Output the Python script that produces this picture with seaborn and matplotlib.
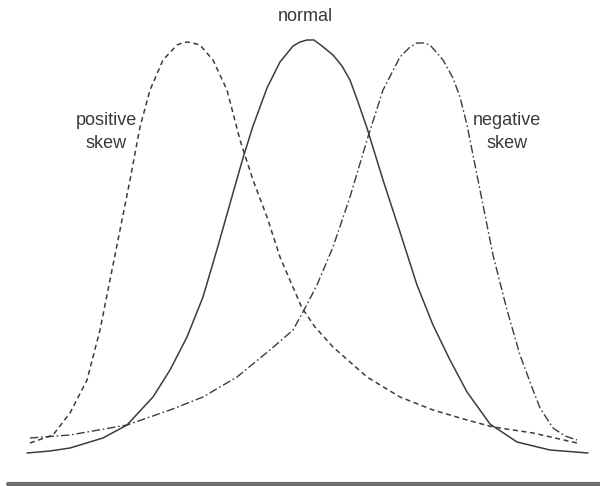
import pandas as pd
import numpy as np
import seaborn as sns
import matplotlib.pyplot as plt

# Werte (x-Position, Hoehe ueber der Grundlinie)
normal_x = [27, 50, 70, 103, 127, 153, 170, 187, 203, 218, 231, 243, 253, 267, 280, 293, 300, 307,
            314, 322, 333, 342, 350, 358, 367, 383, 400, 417, 433, 450, 467, 490, 517, 550, 588]
normal_h = [31, 33, 36, 46, 59, 87, 114, 147, 187, 238, 284, 326, 358, 396, 422, 438, 442, 444,
            444, 438, 429, 418, 404, 382, 356, 304, 252, 199, 159, 124, 92, 60, 42, 34, 31]

pos_x = [30, 53, 70, 87, 100, 110, 120, 130, 140, 150, 163, 177, 182, 187, 193, 200, 213,
         227, 240, 253, 267, 280, 292, 302, 315, 333, 367, 400, 433, 467, 493, 533, 577]
pos_h = [41, 49, 71, 104, 154, 204, 254, 304, 357, 394, 424, 439, 441, 442, 441, 439, 424,
         394, 344, 304, 267, 227, 199, 176, 157, 137, 107, 87, 74, 64, 57, 51, 41]

neg_x = [30, 70, 127, 170, 203, 237, 270, 293, 303, 317, 333, 350, 367, 383, 400, 410, 417,
         424, 430, 443, 453, 460, 467, 473, 483, 493, 507, 520, 533, 540, 553, 565, 577]
neg_h = [46, 49, 59, 74, 87, 107, 134, 154, 172, 199, 237, 287, 344, 394, 427, 437, 441,
         441, 439, 424, 406, 387, 359, 329, 279, 229, 174, 129, 94, 76, 56, 48, 44]

sns.set_style("white")
plt.rcParams['font.family'] = ['Liberation Sans', 'DejaVu Sans']
plt.rcParams['lines.scale_dashes'] = False

fig = plt.figure(figsize=(6, 4.86), dpi=100)
ax = fig.add_axes([0, 0, 1, 1])

farbe = '#3c3c3c'
sns.lineplot(x=normal_x, y=normal_h, ax=ax, color=farbe, lw=1.1, estimator=None,
             solid_joinstyle='round')
sns.lineplot(x=pos_x, y=pos_h, ax=ax, color=farbe, lw=1.1, estimator=None,
             linestyle=(0, (3.6, 2.6)), dash_joinstyle='round')
sns.lineplot(x=neg_x, y=neg_h, ax=ax, color=farbe, lw=1.0, estimator=None,
             linestyle=(0, (6, 2, 1.2, 2)), dash_joinstyle='round')

# Grundlinie
ax.axhline(0, xmin=8 / 600, xmax=1, color='#6e6e6e', lw=3)

txt = dict(ha='center', va='center', fontsize=13, color='#3a3a3a', linespacing=1.45)
ax.text(305, 467, "normal", **txt)
ax.text(106, 352, "positive\nskew", multialignment='center', **txt)
ax.text(507, 352, "negative\nskew", multialignment='center', **txt)

ax.set_xlim(0, 600)
ax.set_ylim(-2, 484)
ax.axis('off')

fig.savefig("out.png", dpi=100, facecolor='white')
